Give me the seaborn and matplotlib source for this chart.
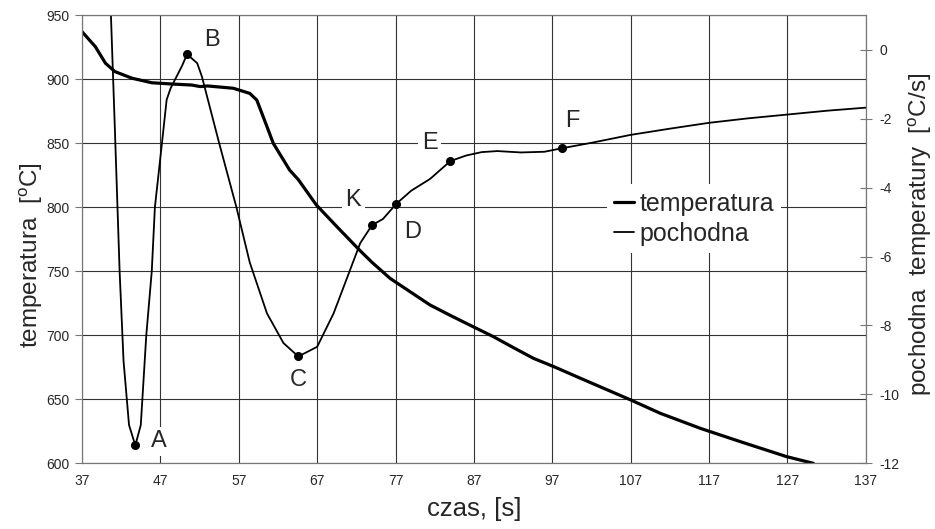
import numpy as np
import pandas as pd
import matplotlib
matplotlib.use("Agg")
import matplotlib.pyplot as plt
import seaborn as sns

# --- data ---
# temperature curve (left axis, deg C)
czas_t = [37, 38.7, 40, 41.2, 43.4, 45.9, 48.5, 51, 52.1, 53, 56.3, 58.4, 59.3,
          60.6, 61.4, 63.5, 64.6, 66.9, 69.5, 72.4, 74, 76.3, 78.5, 81.4, 84,
          86.9, 89.5, 92, 94.6, 97.2, 100.6, 103.1, 107, 110.8, 115.9, 121,
          126.9, 130.3]
temperatura = [937.2, 925.5, 912.5, 906, 900.8, 897.3, 896.3, 895.5, 894.3, 894.8,
               893, 889, 883.8, 863, 850, 829, 821.6, 801.8, 785, 766.6, 757,
               744.5, 735.5, 723.7, 715.5, 706.7, 698.9, 690.5, 682, 675.5, 666.4,
               659.8, 649.5, 639, 627.3, 616.9, 605.2, 600]

# derivative curve (right axis, deg C/s)
czas_p = [40.6, 41.2, 41.8, 42.3, 43.0, 43.8, 44.5, 45.2, 45.9, 46.3, 47.2, 47.8,
          48.3, 49.8, 50.4, 51.7, 52.3, 54.5, 56.7, 58.4, 60.6, 62.7, 64.6, 67.0,
          69.1, 71.2, 72.5, 74.0, 75.4, 77.1, 79.0, 81.4, 84.0, 86.0, 88.0, 90.0,
          93.0, 96.0, 98.2, 102, 107, 112, 117, 122, 127, 132, 137]
pochodna = [1.6, -2.34, -6.43, -9.03, -10.89, -11.48, -10.89, -8.29, -6.43, -4.57,
            -2.71, -1.45, -1.12, -0.45, -0.13, -0.39, -0.78, -2.71, -4.57, -6.17,
            -7.65, -8.51, -8.90, -8.62, -7.65, -6.39, -5.61, -5.09, -4.91, -4.47,
            -4.09, -3.75, -3.23, -3.07, -2.97, -2.94, -2.98, -2.96, -2.86, -2.70,
            -2.47, -2.29, -2.12, -1.99, -1.88, -1.77, -1.68]

# characteristic points on the derivative curve
punkty = ["A", "B", "C", "K", "D", "E", "F"]
punkty_x = [43.8, 50.4, 64.6, 74.0, 77.1, 84.0, 98.2]
punkty_y = [-11.48, -0.13, -8.90, -5.09, -4.47, -3.23, -2.86]

x_ticks = list(range(37, 138, 10))
t_ticks = list(range(600, 951, 50))
p_ticks = list(range(-12, 1, 2))

# --- style ---
sns.set_style("white")
plt.rcParams["font.family"] = ["Liberation Sans", "DejaVu Sans"]
plt.rcParams["mathtext.fontset"] = "custom"
plt.rcParams["mathtext.rm"] = "Liberation Sans"
plt.rcParams["axes.unicode_minus"] = False

fig = plt.figure(figsize=(9.35, 5.29), dpi=100)
ax = fig.add_axes([0.0877, 0.1242, 0.8383, 0.8469])
ax2 = ax.twinx()

df_t = pd.DataFrame({"czas": czas_t, "temperatura": temperatura})
df_p = pd.DataFrame({"czas": czas_p, "pochodna": pochodna})

sns.lineplot(data=df_t, x="czas", y="temperatura", ax=ax, color="black",
             lw=2.3, label="temperatura", legend=False)
sns.lineplot(data=df_p, x="czas", y="pochodna", ax=ax2, color="black",
             lw=1.3, label="pochodna", legend=False)

ax2.plot(punkty_x, punkty_y, "o", color="black", ms=5.5)

# label offsets in points from each marker
offsets = {"A": (17, 3), "B": (18, 10), "C": (0, -17), "K": (-13.5, 18),
           "D": (11.5, -20), "E": (-15, 13), "F": (8, 20)}
for lab, px, py in zip(punkty, punkty_x, punkty_y):
    ax2.annotate(lab, (px, py), xytext=offsets[lab], textcoords="offset points",
                 ha="center", va="center", fontsize=17,
                 bbox=dict(boxstyle="square,pad=0.15", fc="white", ec="none"))

# axes limits / ticks
ax.set_xlim(37, 137)
ax.set_ylim(600, 950)
ax2.set_ylim(-12, 1)
ax.set_xticks(x_ticks)
ax.set_yticks(t_ticks)
ax2.set_yticks(p_ticks)

ax.grid(True, color="#333333", lw=0.8)
ax.set_axisbelow(True)
for sp in ax.spines.values():
    sp.set_color("#777777")
for sp in ax2.spines.values():
    sp.set_color("#777777")

ax.tick_params(axis="both", labelsize=10, direction="out", length=5,
               color="#777777", pad=4)
ax.tick_params(axis="x", pad=3)
ax2.tick_params(axis="y", labelsize=10, direction="inout", length=9,
                color="#777777", pad=5)

ax.set_xlabel("czas, [s]", fontsize=18.5, labelpad=6)
ax.set_ylabel("temperatura  [$^{\\mathrm{o}}$C]", fontsize=17.5)
ax2.set_ylabel("pochodna  temperatury  [$^{\\mathrm{o}}$C/s]", fontsize=17.5)
ax.yaxis.set_label_coords(-0.047, 0.465)
ax2.yaxis.set_label_coords(1.052, 0.512)

h1, l1 = ax.get_legend_handles_labels()
h2, l2 = ax2.get_legend_handles_labels()
leg = ax2.legend(h1 + h2, l1 + l2, loc="upper left",
                 bbox_to_anchor=(0.649, 0.652), bbox_transform=fig.transFigure,
                 fontsize=18, frameon=True, fancybox=False, framealpha=1,
                 edgecolor="none", facecolor="white", handlelength=0.8,
                 handletextpad=0.2, labelspacing=0.25, borderpad=0.3,
                 borderaxespad=0)

fig.savefig("out.png", dpi=100)
